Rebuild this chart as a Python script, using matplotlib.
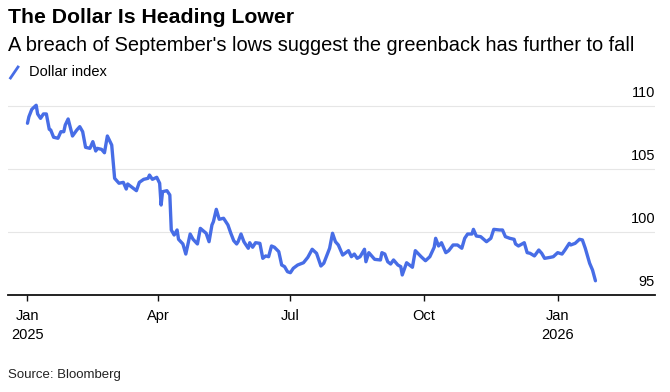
import datetime as dt

import matplotlib
matplotlib.use('Agg')
import matplotlib.pyplot as plt
import matplotlib.dates as mdates
import matplotlib.transforms as mtransforms
from matplotlib.lines import Line2D

plt.rcParams['font.family'] = ['Liberation Sans', 'DejaVu Sans']

# dollar index (day of month per month)
months = [
    (2025, 1, [1, 2, 4, 7, 8, 10, 12, 14, 16, 17, 19, 22, 24, 26, 27, 29]),
    (2025, 2, [1, 4, 6, 8, 10, 13, 15, 17, 18, 21, 23, 25, 28]),
    (2025, 3, [2, 5, 8, 10, 11, 14, 17, 19, 22, 25, 26, 28, 31]),
    (2025, 4, [2, 3, 4, 7, 9, 10, 12, 14, 15, 18, 20, 23, 25, 28, 30]),
    (2025, 5, [4, 6, 8, 9, 11, 13, 16, 19, 21, 23, 25, 26, 28, 30, 31]),
    (2025, 6, [2, 3, 5, 7, 10, 12, 14, 16, 18, 20, 23, 25, 27, 29]),
    (2025, 7, [1, 3, 6, 10, 13, 16, 19, 22, 24, 28, 30]),
    (2025, 8, [1, 3, 6, 10, 12, 14, 16, 18, 21, 22, 24, 28]),
    (2025, 9, [1, 2, 4, 6, 8, 10, 13, 15, 16, 19, 23, 25, 29]),
    (2025, 10, [2, 5, 8, 9, 11, 13, 16, 18, 21, 24, 27, 29, 31]),
    (2025, 11, [3, 4, 6, 9, 13, 16, 18, 22, 24, 26, 29]),
    (2025, 12, [2, 3, 5, 9, 11, 13, 16, 19, 21, 23, 27, 29]),
    (2026, 1, [1, 4, 6, 9, 10, 13, 16, 18, 20, 23, 25, 27]),
]

jan25 = [108.63, 109.15, 109.74, 110.06, 109.37, 109.02, 109.37, 109.37, 108.15, 108.10,
         107.52, 107.44, 107.96, 107.96, 108.49, 108.97]
feb25 = [107.62, 108.10, 108.36, 107.96, 106.72, 106.64, 107.17, 106.43, 106.64, 106.56,
         106.29, 107.62, 106.90]
mar25 = [104.26, 103.87, 103.94, 103.41, 103.81, 103.55, 103.28, 103.94, 104.18, 104.26,
         104.52, 104.18, 104.34]
apr25 = [103.87, 102.14, 103.20, 103.28, 102.94, 100.16, 99.76, 100.16, 99.42, 99.05,
         98.25, 99.84, 99.42, 99.05, 100.29]
may25 = [99.90, 99.23, 100.56, 100.82, 101.80, 101.01, 101.09, 100.56, 99.90, 99.31,
         99.05, 99.23, 99.84, 99.23, 99.05]
jun25 = [98.71, 99.15, 98.79, 99.15, 99.10, 97.91, 98.10, 98.04, 98.89, 98.79,
         98.44, 97.38, 97.25, 96.85]
jul25 = [96.77, 97.12, 97.38, 97.56, 97.99, 98.63, 98.31, 97.30, 97.52, 98.71, 99.90]
aug25 = [99.23, 98.97, 98.17, 98.52, 98.04, 98.25, 97.91, 98.04, 98.63, 97.64,
         98.36, 97.83]
sep25 = [97.78, 98.36, 98.25, 97.64, 97.46, 97.78, 97.38, 97.25, 96.59, 97.56,
         97.20, 98.52, 98.04]
oct25 = [97.72, 98.04, 98.79, 99.50, 98.89, 99.15, 98.36, 98.52, 98.97, 98.97,
         98.71, 99.50, 99.84]
nov25 = [99.84, 100.21, 99.68, 99.63, 99.23, 99.50, 100.21, 100.16, 100.16, 99.63, 99.50]
dec25 = [99.42, 99.05, 98.89, 99.15, 98.36, 98.31, 98.10, 98.57, 98.31, 97.91,
         97.99, 98.04]
jan26 = [98.36, 98.25, 98.57, 99.10, 98.97, 99.10, 99.42, 99.37, 98.71, 97.52,
         96.98, 96.13]

values = jan25 + feb25 + mar25 + apr25 + may25 + jun25 + jul25 + aug25 + sep25 + oct25 + nov25 + dec25 + jan26
dates = [dt.date(y, m, d) for y, m, days in months for d in days]
assert len(dates) == len(values)

xticks = [dt.date(2025, 1, 1), dt.date(2025, 4, 1), dt.date(2025, 7, 1),
          dt.date(2025, 10, 1), dt.date(2026, 1, 1)]
xtick_labels = ['Jan\n2025', 'Apr', 'Jul', 'Oct', 'Jan\n2026']
yticks = [95, 100, 105, 110]

W, H = 670, 392
fig = plt.figure(figsize=(W / 100, H / 100), dpi=100)
ax = fig.add_axes([8 / W, 1 - 295 / H, 647 / W, 205 / H])

ax.plot(dates, values, color='#476de6', lw=2.4, solid_joinstyle='round', solid_capstyle='round')

t0 = mdates.date2num(dt.date(2025, 1, 1))
ax.set_xlim(t0 - 13.4, t0 + 432)
ax.set_ylim(95, 111.27)

for s in ['top', 'left', 'right']:
    ax.spines[s].set_visible(False)
ax.spines['bottom'].set_linewidth(1.3)
ax.spines['bottom'].set_color('#111111')

ax.set_yticks(yticks[1:])
ax.tick_params(axis='y', length=0, labelleft=False)
ax.grid(axis='y', color='#e6e6e6', lw=0.8)
ax.set_axisbelow(True)

ax.set_xticks(xticks)
ax.set_xticklabels(xtick_labels, fontsize=10.5, linespacing=1.45)
ax.tick_params(axis='x', length=4, width=1, color='#111111', pad=6)

tr = mtransforms.offset_copy(mtransforms.blended_transform_factory(ax.transAxes, ax.transData),
                             fig=fig, x=0, y=13, units='dots')
for v in yticks:
    ax.text(1.0, v, str(v), transform=tr, ha='right', va='center', fontsize=10.5)

fig.text(8 / W, 1 - 17.5 / H, 'The Dollar Is Heading Lower', fontsize=15.3, fontweight='bold',
         va='center', ha='left')
fig.text(8 / W, 1 - 45.5 / H, "A breach of September's lows suggest the greenback has further to fall",
         fontsize=14.45, va='center', ha='left')
fig.add_artist(Line2D([10.5 / W, 18 / W], [1 - 78 / H, 1 - 67 / H], color='#476de6', lw=2))
fig.text(29 / W, 1 - 72.5 / H, 'Dollar index', fontsize=10.5, va='center', ha='left')
fig.text(8 / W, 1 - 375 / H, 'Source: Bloomberg', fontsize=9.5, va='center', ha='left', color='#222222')

fig.savefig('out.png', dpi=100)
